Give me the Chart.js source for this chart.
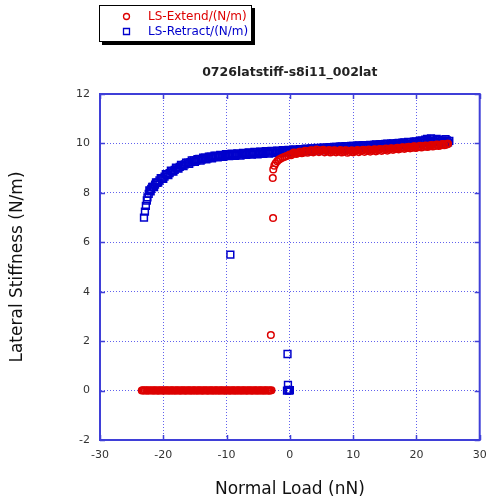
<!DOCTYPE html>
<html>
<head>
<meta charset="utf-8">
<script src="https://cdn.jsdelivr.net/npm/chart.js@4.4.0/dist/chart.umd.min.js"></script>
<style>
  html, body { margin: 0; padding: 0; background: #fff; }
</style>
</head>
<body>
<canvas id="chart" width="486" height="501"></canvas>
<script>
// eixos
const xTicks = [-30, -20, -10, 0, 10, 20, 30];
const yTicks = [-2, 0, 2, 4, 6, 8, 10, 12];

// LS-Extend: [carga normal (nN), rigidez lateral (N/m)]
const extendFlat = [
  [-23.4, 0], [-23.25, 0.01], [-23.1, 0], [-22.9, 0], [-22.7, 0.01], [-22.55, 0], [-22.4, 0], [-22.2, 0],
  [-22.0, 0.01], [-21.8, 0], [-21.6, 0], [-21.45, 0], [-21.3, 0.01], [-21.1, 0], [-20.9, 0], [-20.75, 0],
  [-20.6, 0], [-20.4, 0.01], [-20.2, 0], [-20.05, 0], [-19.9, 0], [-19.7, 0], [-19.5, 0.01], [-19.35, 0],
  [-19.2, 0], [-19.0, 0], [-18.8, 0], [-18.65, 0.01], [-18.5, 0], [-18.3, 0], [-18.1, 0], [-17.95, 0],
  [-17.8, 0.01], [-17.6, 0], [-17.4, 0], [-17.25, 0], [-17.1, 0], [-16.9, 0.01], [-16.7, 0], [-16.55, 0],
  [-16.4, 0], [-16.2, 0], [-16.0, 0.01], [-15.85, 0], [-15.7, 0], [-15.5, 0], [-15.3, 0], [-15.15, 0.01],
  [-15.0, 0], [-14.8, 0], [-14.6, 0], [-14.45, 0], [-14.3, 0.01], [-14.1, 0], [-13.9, 0], [-13.75, 0],
  [-13.6, 0], [-13.4, 0.01], [-13.2, 0], [-13.05, 0], [-12.9, 0], [-12.7, 0], [-12.5, 0.01], [-12.35, 0],
  [-12.2, 0], [-12.0, 0], [-11.8, 0], [-11.65, 0.01], [-11.5, 0], [-11.3, 0], [-11.1, 0], [-10.95, 0],
  [-10.8, 0.01], [-10.6, 0], [-10.4, 0], [-10.25, 0], [-10.1, 0], [-9.9, 0.01], [-9.7, 0], [-9.55, 0],
  [-9.4, 0], [-9.2, 0], [-9.0, 0.01], [-8.85, 0], [-8.7, 0], [-8.5, 0], [-8.3, 0], [-8.15, 0.01],
  [-8.0, 0], [-7.8, 0], [-7.6, 0], [-7.45, 0], [-7.3, 0.01], [-7.1, 0], [-6.9, 0], [-6.75, 0],
  [-6.6, 0], [-6.4, 0.01], [-6.2, 0], [-6.05, 0], [-5.9, 0], [-5.7, 0], [-5.5, 0.01], [-5.35, 0],
  [-5.2, 0], [-5.0, 0], [-4.8, 0], [-4.65, 0.01], [-4.5, 0], [-4.3, 0], [-4.1, 0], [-3.95, 0],
  [-3.8, 0.01], [-3.6, 0], [-3.4, 0], [-3.25, 0], [-3.1, 0], [-2.9, 0.01]
];
const extendJump = [
  [-3.0, 2.25], [-2.65, 6.98], [-2.7, 8.6], [-2.62, 8.95], [-2.45, 9.1], [-2.25, 9.2], [-2.0, 9.28],
  [-1.75, 9.34], [-1.5, 9.38], [-1.2, 9.42], [-0.9, 9.45], [-0.6, 9.48], [-0.3, 9.51], [0.0, 9.55]
];
const extendBand = [
  [0.2, 9.52], [0.4, 9.58], [0.6, 9.63], [0.8, 9.62], [1.0, 9.57], [1.3, 9.60], [1.5, 9.66], [1.7, 9.66],
  [1.9, 9.60], [2.2, 9.63], [2.4, 9.70], [2.6, 9.69], [2.8, 9.62], [3.1, 9.66], [3.3, 9.72], [3.5, 9.71],
  [3.7, 9.64], [4.0, 9.68], [4.2, 9.75], [4.4, 9.73], [4.6, 9.65], [4.9, 9.69], [5.1, 9.72], [5.3, 9.74],
  [5.5, 9.64], [5.8, 9.68], [6.0, 9.70], [6.2, 9.73], [6.4, 9.63], [6.7, 9.67], [6.9, 9.71], [7.1, 9.72],
  [7.3, 9.64], [7.6, 9.68], [7.8, 9.70], [8.0, 9.73], [8.2, 9.63], [8.5, 9.67], [8.7, 9.71], [8.9, 9.72],
  [9.1, 9.62], [9.4, 9.66], [9.6, 9.70], [9.8, 9.72], [10.0, 9.64], [10.3, 9.68], [10.5, 9.71], [10.7, 9.73],
  [10.9, 9.65], [11.2, 9.69], [11.4, 9.72], [11.6, 9.74], [11.8, 9.66], [12.1, 9.70], [12.3, 9.73], [12.5, 9.75],
  [12.7, 9.67], [13.0, 9.71], [13.2, 9.74], [13.4, 9.76], [13.6, 9.68], [13.9, 9.72], [14.1, 9.76], [14.3, 9.77],
  [14.5, 9.70], [14.8, 9.73], [15.0, 9.77], [15.2, 9.79], [15.4, 9.71], [15.7, 9.75], [15.9, 9.79], [16.1, 9.80],
  [16.3, 9.74], [16.6, 9.77], [16.8, 9.80], [17.0, 9.82], [17.2, 9.76], [17.5, 9.79], [17.7, 9.83], [17.9, 9.84],
  [18.1, 9.78], [18.4, 9.81], [18.6, 9.85], [18.8, 9.86], [19.0, 9.80], [19.3, 9.83], [19.5, 9.87], [19.7, 9.88],
  [19.9, 9.82], [20.2, 9.85], [20.4, 9.88], [20.6, 9.90], [20.8, 9.84], [21.1, 9.87], [21.3, 9.90], [21.5, 9.91],
  [21.7, 9.86], [22.0, 9.88], [22.2, 9.92], [22.4, 9.93], [22.6, 9.88], [22.9, 9.90], [23.1, 9.94], [23.3, 9.95],
  [23.5, 9.90], [23.8, 9.92], [24.0, 9.96], [24.2, 9.97], [24.4, 9.93], [24.7, 9.95], [24.9, 9.99], [25.0, 9.98]
];

// LS-Retract
const retractBand = [
  [25.2, 10.10], [25.0, 10.04], [24.8, 10.12], [24.6, 10.17], [24.4, 10.06], [24.2, 10.02], [24.0, 10.11], [23.7, 10.08],
  [23.5, 10.14], [23.2, 10.18], [23.0, 10.07], [22.8, 10.04], [22.6, 10.16], [22.3, 10.20], [22.1, 10.10], [21.9, 10.06],
  [21.7, 10.18], [21.4, 10.15], [21.2, 10.09], [21.0, 10.02], [20.8, 10.12], [20.5, 10.10], [20.3, 10.03], [20.1, 9.97],
  [19.9, 10.08], [19.6, 10.07], [19.4, 10.00], [19.2, 9.95], [19.0, 10.05], [18.7, 10.06], [18.5, 9.98], [18.3, 9.93],
  [18.1, 10.04], [17.8, 10.03], [17.6, 9.97], [17.4, 9.92], [17.2, 10.02], [16.9, 10.01], [16.7, 9.95], [16.5, 9.90],
  [16.3, 10.00], [16.0, 9.99], [15.8, 9.93], [15.6, 9.88], [15.4, 9.99], [15.1, 9.98], [14.9, 9.92], [14.7, 9.86],
  [14.5, 9.97], [14.2, 9.96], [14.0, 9.90], [13.8, 9.85], [13.6, 9.96], [13.3, 9.94], [13.1, 9.89], [12.9, 9.84],
  [12.7, 9.94], [12.4, 9.93], [12.2, 9.88], [12.0, 9.83], [11.8, 9.93], [11.5, 9.92], [11.3, 9.87], [11.1, 9.82],
  [10.9, 9.92], [10.6, 9.91], [10.4, 9.86], [10.2, 9.81], [10.0, 9.90], [9.7, 9.90], [9.5, 9.84], [9.3, 9.80],
  [9.1, 9.89], [8.8, 9.89], [8.6, 9.83], [8.4, 9.78], [8.2, 9.88], [7.9, 9.87], [7.7, 9.81], [7.5, 9.76],
  [7.3, 9.86], [7.0, 9.86], [6.8, 9.80], [6.6, 9.75], [6.4, 9.85], [6.1, 9.84], [5.9, 9.78], [5.7, 9.74],
  [5.5, 9.83], [5.2, 9.83], [5.0, 9.77], [4.8, 9.72], [4.6, 9.81], [4.3, 9.82], [4.1, 9.75], [3.9, 9.71],
  [3.7, 9.80], [3.4, 9.80], [3.2, 9.74], [3.0, 9.69], [2.8, 9.78], [2.5, 9.79], [2.3, 9.72], [2.1, 9.68],
  [1.9, 9.76], [1.6, 9.77], [1.4, 9.70], [1.2, 9.66], [1.0, 9.74], [0.7, 9.76], [0.5, 9.69], [0.3, 9.65],
  [0.1, 9.73], [-0.2, 9.74], [-0.4, 9.67], [-0.6, 9.63], [-0.8, 9.71], [-1.1, 9.73], [-1.3, 9.66], [-1.5, 9.62],
  [-1.7, 9.70], [-2.0, 9.71], [-2.2, 9.64], [-2.4, 9.61], [-2.6, 9.69], [-2.9, 9.70], [-3.1, 9.63], [-3.3, 9.59],
  [-3.5, 9.67], [-3.8, 9.69], [-4.0, 9.62], [-4.2, 9.58], [-4.4, 9.66], [-4.7, 9.67], [-4.9, 9.60], [-5.1, 9.56],
  [-5.3, 9.64], [-5.6, 9.66], [-5.8, 9.58], [-6.0, 9.55], [-6.2, 9.62], [-6.5, 9.64], [-6.7, 9.57], [-6.9, 9.54],
  [-7.1, 9.60], [-7.4, 9.62], [-7.6, 9.55], [-7.8, 9.51], [-8.0, 9.58], [-8.3, 9.60], [-8.5, 9.53], [-8.7, 9.50],
  [-8.9, 9.57], [-9.2, 9.59], [-9.4, 9.52], [-9.6, 9.49], [-9.8, 9.55], [-10.1, 9.57], [-10.3, 9.50], [-10.5, 9.46],
  [-10.7, 9.53], [-11.0, 9.54], [-11.2, 9.48], [-11.4, 9.44], [-11.6, 9.50], [-11.9, 9.51], [-12.1, 9.45], [-12.3, 9.40],
  [-12.5, 9.47], [-12.8, 9.47], [-13.0, 9.40], [-13.2, 9.36], [-13.4, 9.42], [-13.7, 9.42], [-13.9, 9.36], [-14.1, 9.30],
  [-14.3, 9.37], [-14.6, 9.36], [-14.8, 9.30], [-15.0, 9.25], [-15.2, 9.31], [-15.5, 9.31], [-15.7, 9.24], [-15.9, 9.17],
  [-16.1, 9.22], [-16.4, 9.22], [-16.6, 9.15], [-16.8, 9.08], [-17.0, 9.12], [-17.2, 9.13], [-17.4, 9.05], [-17.6, 8.98],
  [-17.8, 9.00], [-18.0, 9.02], [-18.2, 8.93], [-18.4, 8.86], [-18.6, 8.88], [-18.8, 8.90], [-19.0, 8.80], [-19.2, 8.72],
  [-19.4, 8.74], [-19.6, 8.76], [-19.8, 8.66], [-20.0, 8.57], [-20.2, 8.58], [-20.4, 8.60], [-20.6, 8.50], [-20.8, 8.41],
  [-21.0, 8.40], [-21.15, 8.42], [-21.3, 8.33], [-21.45, 8.23], [-21.6, 8.24], [-21.75, 8.24], [-21.9, 8.16], [-22.0, 8.06],
  [-22.1, 8.08], [-22.2, 8.10], [-22.3, 7.96], [-22.5, 7.82], [-22.6, 7.69], [-22.75, 7.47], [-22.9, 7.24], [-23.05, 7.00]
];
const retractSnap = [
  [-9.4, 5.50], [-0.37, 1.48], [-0.3, 0.23], [-0.45, 0.0], [-0.25, 0.03], [-0.1, 0.0], [0.0, 0.02]
];

const RED = '#dd0000';
const BLUE = '#0000cc';
const AXIS = '#3f3fd8';
const GRID = 'rgba(70, 70, 235, 0.85)';
const FONT = 'DejaVu Sans';

const toPoints = (...sets) => sets.flat().map(([x, y]) => ({ x, y }));

// moldura completa e marcas internas dos eixos
const frameTicks = {
  id: 'frameTicks',
  afterDatasetsDraw(chart) {
    const { ctx, chartArea: a, scales } = chart;
    ctx.save();
    ctx.strokeStyle = AXIS;
    ctx.lineWidth = 2;
    ctx.strokeRect(a.left, a.top, a.right - a.left, a.bottom - a.top);
    ctx.lineWidth = 1.5;
    ctx.beginPath();
    xTicks.forEach(v => {
      const px = Math.round(scales.x.getPixelForValue(v)) + 0.5;
      ctx.moveTo(px, a.bottom); ctx.lineTo(px, a.bottom - 5);
      ctx.moveTo(px, a.top); ctx.lineTo(px, a.top + 5);
    });
    yTicks.forEach(v => {
      const py = Math.round(scales.y.getPixelForValue(v)) + 0.5;
      ctx.moveTo(a.left, py); ctx.lineTo(a.left + 5, py);
      ctx.moveTo(a.right, py); ctx.lineTo(a.right - 5, py);
    });
    ctx.stroke();
    ctx.restore();
  }
};

// legenda em caixa com sombra
const legendBox = {
  id: 'legendBox',
  afterDraw(chart) {
    const ctx = chart.ctx;
    ctx.save();
    ctx.fillStyle = '#000';
    ctx.fillRect(102, 8, 153, 37);
    ctx.fillStyle = '#fff';
    ctx.fillRect(99, 5, 153, 37);
    ctx.strokeStyle = '#000';
    ctx.lineWidth = 1;
    ctx.strokeRect(99.5, 5.5, 152, 36);
    ctx.font = '12px "' + FONT + '"';
    ctx.textBaseline = 'middle';
    chart.data.datasets.forEach((ds, i) => {
      const y = 16.5 + i * 15;
      ctx.strokeStyle = ds.borderColor;
      ctx.lineWidth = 1.3;
      ctx.beginPath();
      if (i === 0) {
        ctx.arc(126.5, y, 3, 0, Math.PI * 2);
      } else {
        ctx.rect(123.5, y - 3, 6, 6);
      }
      ctx.stroke();
      ctx.fillStyle = ds.borderColor;
      ctx.fillText(ds.label, 148, y);
    });
    ctx.restore();
  }
};

new Chart(document.getElementById('chart'), {
  type: 'scatter',
  data: {
    datasets: [
      {
        label: 'LS-Extend/(N/m)',
        data: toPoints(extendFlat, extendJump, extendBand),
        pointStyle: 'circle',
        pointRadius: 3.3,
        borderColor: RED,
        backgroundColor: 'rgba(0,0,0,0)',
        borderWidth: 1.5
      },
      {
        label: 'LS-Retract/(N/m)',
        data: toPoints(retractBand, retractSnap),
        pointStyle: 'rect',
        pointRadius: 4.8,
        borderColor: BLUE,
        backgroundColor: 'rgba(0,0,0,0)',
        borderWidth: 1.5
      }
    ]
  },
  options: {
    responsive: false,
    animation: false,
    layout: { padding: { top: 0, right: 6, bottom: 0, left: 0 } },
    plugins: {
      legend: { display: false },
      tooltip: { enabled: false },
      title: {
        display: true,
        text: '0726latstiff-s8i11_002lat',
        fullSize: false,
        color: '#222',
        font: { family: FONT, size: 12.5, weight: 'bold' },
        padding: { top: 65, bottom: 14 }
      }
    },
    scales: {
      x: {
        type: 'linear',
        min: -30,
        max: 30,
        afterBuildTicks: scale => { scale.ticks = xTicks.map(v => ({ value: v })); },
        afterFit: scale => { scale.height = 61; scale.paddingRight = 6; },
        ticks: {
          color: '#333',
          font: { family: FONT, size: 11 },
          padding: 9,
          maxRotation: 0,
          autoSkip: false
        },
        grid: { color: GRID, lineWidth: 1, drawTicks: false },
        border: { display: true, color: AXIS, width: 2, dash: [1, 2] },
        title: {
          display: true,
          text: 'Normal Load (nN)',
          color: '#111',
          font: { family: FONT, size: 17 },
          padding: { top: 0, bottom: 1 }
        }
      },
      y: {
        type: 'linear',
        min: -2,
        max: 12,
        afterBuildTicks: scale => { scale.ticks = yTicks.map(v => ({ value: v })); },
        afterFit: scale => { scale.width = 100; },
        ticks: {
          color: '#333',
          font: { family: FONT, size: 11 },
          padding: 10,
          autoSkip: false
        },
        grid: { color: GRID, lineWidth: 1, drawTicks: false },
        border: { display: true, color: AXIS, width: 2, dash: [1, 2] },
        title: {
          display: true,
          text: 'Lateral Stiffness (N/m)',
          color: '#111',
          font: { family: FONT, size: 17 },
          padding: { top: 7, bottom: 0 }
        }
      }
    }
  },
  plugins: [frameTicks, legendBox]
});
</script>
</body>
</html>
